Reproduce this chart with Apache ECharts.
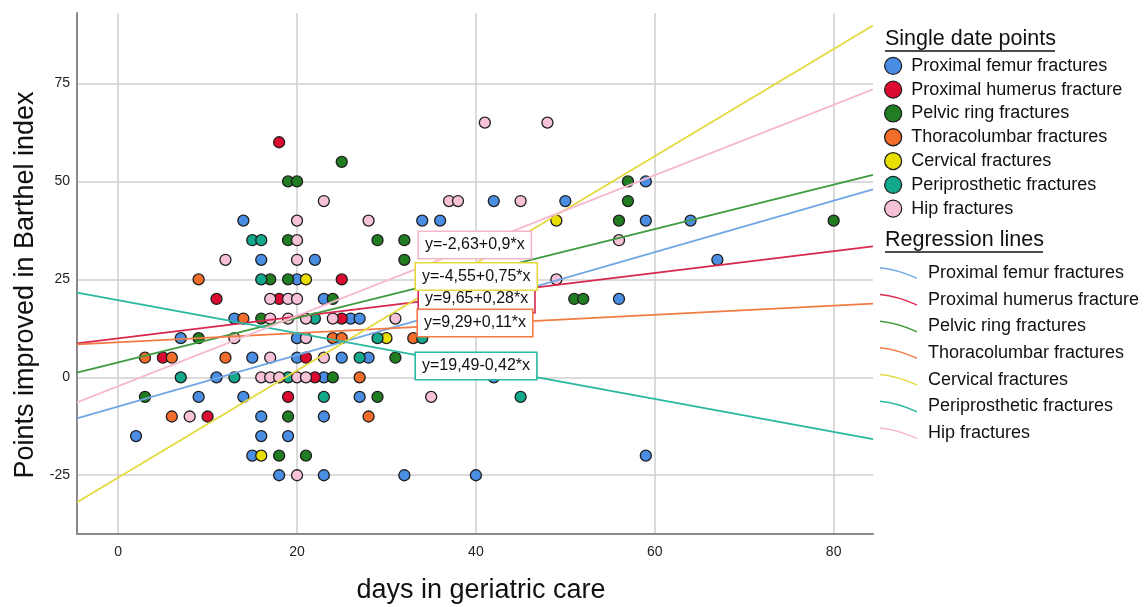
<!DOCTYPE html>
<html>
<head>
<meta charset="utf-8">
<script src="https://cdn.jsdelivr.net/npm/echarts@6/dist/echarts.min.js"></script>
<style>
html,body{margin:0;padding:0;background:#fff;}
#chart{width:1144px;height:607px;}
</style>
</head>
<body>
<div id="chart"></div>
<script>
// ---------- data ----------
const groupNames = ["Proximal femur fractures","Proximal humerus fracture","Pelvic ring fractures","Thoracolumbar fractures","Cervical fractures","Periprosthetic fractures","Hip fractures"];

const femurPoints = [[14,40],[16,30],[13,15],[7,10],[15,5],[11,0],[9,-5],[14,-5],[16,-10],[2,-15],[16,-15],[15,-20],[22,30],[20,25],[23,20],[26,15],[27,15],[20,10],[20,5],[25,5],[28,5],[23,0],[27,-5],[23,-10],[19,-15],[18,-25],[23,-25],[32,-25],[34,40],[36,40],[42,45],[50,45],[59,50],[59,40],[64,40],[67,30],[56,20],[59,-20],[40,-25],[42,0]];
const humerusPoints = [[11,20],[5,5],[10,-10],[18,60],[25,25],[18,20],[25,15],[21,5],[22,0],[19,-5]];
const pelvicPoints = [[17,25],[16,15],[9,10],[3,-5],[25,55],[19,50],[20,50],[19,35],[29,35],[32,35],[32,30],[19,25],[24,20],[24,0],[31,5],[29,-5],[19,-10],[18,-20],[21,-20],[57,50],[57,45],[56,40],[80,40],[51,20],[52,20]];
const thoracoPoints = [[9,25],[14,15],[3,5],[6,5],[12,5],[6,-10],[24,10],[25,10],[33,10],[27,0],[28,-10]];
const cervicalPoints = [[16,-20],[21,25],[30,10],[49,40]];
const periPoints = [[15,35],[16,35],[16,25],[7,0],[13,0],[22,15],[29,10],[34,10],[27,5],[19,0],[23,-5],[45,-5]];
const hipPoints = [[12,30],[17,20],[17,15],[13,10],[17,5],[16,0],[17,0],[8,-10],[23,45],[20,40],[28,40],[20,35],[20,30],[19,20],[20,20],[19,15],[21,15],[24,15],[31,15],[21,10],[23,5],[18,0],[20,0],[21,0],[35,-5],[20,-25],[41,65],[48,65],[37,45],[38,45],[45,45],[56,35],[49,25]];

// regression lines: y values read at the left and right edges of the plot
const lineX = [-4.6, 84.4];
const femurLine = [-10.5, 48.0];
const humerusLine = [8.65, 33.4];
const pelvicLine = [1.2, 51.7];
const thoracoLine = [8.4, 18.8];
const cervicalLine = [-31.9, 89.8];
const periLine = [21.6, -15.8];
const hipLine = [-6.4, 73.5];

const xTicks = [0,20,40,60,80];
const yTicks = [-25,0,25,50,75];

const xTitle = 'days in geriatric care';
const yTitle = 'Points improved in Barthel index';
const equationTexts = ["y=9,65+0,28*x","y=-2,63+0,9*x","y=-4,55+0,75*x","y=9,29+0,11*x","y=19,49-0,42*x"];

// ---------- styling ----------
const pointColors = ['#4a8ee4','#dc0a30','#217d21','#f26c2a','#e8df00','#12a88c','#f7c2d8'];
const lineColors  = ['#6fa7e6','#d8284f','#3f9b3f','#f27b44','#e4da3c','#2ab8a2','#f6b9d0'];
const eqBorders = ['#d8284f','#f3b6cb','#e4d83a','#f27b44','#2ab8a2'];
const eqPos = [[419,286],[419,232],[416,263.5],[418,310],[416,353]];
const FONT = "'Liberation Sans', Arial, Helvetica, sans-serif";

const pointSets = [femurPoints,humerusPoints,pelvicPoints,thoracoPoints,cervicalPoints,periPoints,hipPoints];
const lineSets = [femurLine,humerusLine,pelvicLine,thoracoLine,cervicalLine,periLine,hipLine];

const series = [];
pointSets.forEach((pts,i)=>{
  series.push({
    type:'scatter', name: groupNames[i], data: pts, symbolSize: 11, z: 3,
    itemStyle:{color: pointColors[i], borderColor:'#1e1e1e', borderWidth:1.3, opacity:1},
    emphasis:{disabled:true}
  });
});
lineSets.forEach((ys,i)=>{
  series.push({
    type:'line', name: groupNames[i] + ' ', data: [[lineX[0],ys[0]],[lineX[1],ys[1]]],
    showSymbol:false, symbol:'none', z: 4, silent:true,
    lineStyle:{color: lineColors[i], width:1.8},
    itemStyle:{color: lineColors[i]}
  });
});

const graphics = [
  {type:'text', x:885, y:39.5, z:10, style:{text:'Single date points', font:'21.5px '+FONT, fill:'#111', verticalAlign:'middle'}},
  {type:'line', z:10, shape:{x1:885,y1:51,x2:1055,y2:51}, style:{stroke:'#111', lineWidth:1.3}},
  {type:'text', x:885, y:240, z:10, style:{text:'Regression lines', font:'21.5px '+FONT, fill:'#111', verticalAlign:'middle'}},
  {type:'line', z:10, shape:{x1:885,y1:252,x2:1043,y2:252}, style:{stroke:'#111', lineWidth:1.3}},
  {type:'text', x:481, y:591, z:10, style:{text:xTitle, font:'27px '+FONT, fill:'#111', align:'center', verticalAlign:'middle'}},
  {type:'text', x:26, y:285, rotation:Math.PI/2, z:10, style:{text:yTitle, font:'27px '+FONT, fill:'#111', align:'center', verticalAlign:'middle'}}
];
equationTexts.forEach((t,i)=>{
  graphics.push({type:'text', x:eqPos[i][0], y:eqPos[i][1], z:20+i,
    style:{text:t, font:'16px '+FONT, fill:'#111', backgroundColor:'#fff',
      borderColor:eqBorders[i], borderWidth:1.6, padding:[5,6,5,6]}});
});

const chart = echarts.init(document.getElementById('chart'), null, {renderer:'canvas'});
chart.setOption({
  animation:false,
  backgroundColor:'#fff',
  textStyle:{fontFamily:FONT},
  grid:{left:77, right:271, top:13, bottom:73, containLabel:false},
  xAxis:{
    type:'value', min:lineX[0], max:lineX[1],
    axisLine:{show:true, onZero:false, lineStyle:{color:'#8a8a8a', width:2}},
    axisTick:{show:false, customValues:xTicks},
    axisLabel:{customValues:xTicks, fontSize:14, color:'#222', margin:11, fontFamily:FONT},
    splitLine:{show:true, lineStyle:{color:'#cfcfcf', width:1.5}}
  },
  yAxis:{
    type:'value', min:-40, max:93,
    axisLine:{show:true, onZero:false, lineStyle:{color:'#8a8a8a', width:2}},
    axisTick:{show:false, customValues:yTicks},
    axisLabel:{customValues:yTicks, fontSize:14, color:'#222', margin:7, fontFamily:FONT},
    splitLine:{show:true, lineStyle:{color:'#cfcfcf', width:1.5}}
  },
  legend:[
    {
      orient:'vertical', left:884, top:56.7, itemWidth:26, itemHeight:17, itemGap:5.5, padding:0,
      selectedMode:false, icon:'circle',
      data: groupNames.map(n=>({name:n})),
      itemStyle:{borderColor:'#1e1e1e', borderWidth:1.3},
      textStyle:{fontSize:18, color:'#111', fontFamily:FONT}
    },
    {
      orient:'vertical', left:880, top:264, itemWidth:37, itemHeight:12, itemGap:8.7, padding:0,
      selectedMode:false,
      data: groupNames.map((n,i)=>({name:n+' ', icon:'path://M0,0 Q17,1.5 37,10.5 L37,12 Q17,3 0,1.5 Z', itemStyle:{color:lineColors[i], borderWidth:0}})),
      textStyle:{fontSize:18, color:'#111', fontFamily:FONT, padding:[0,0,0,6]}
    }
  ],
  graphic: graphics,
  series: series
});
</script>
</body>
</html>
